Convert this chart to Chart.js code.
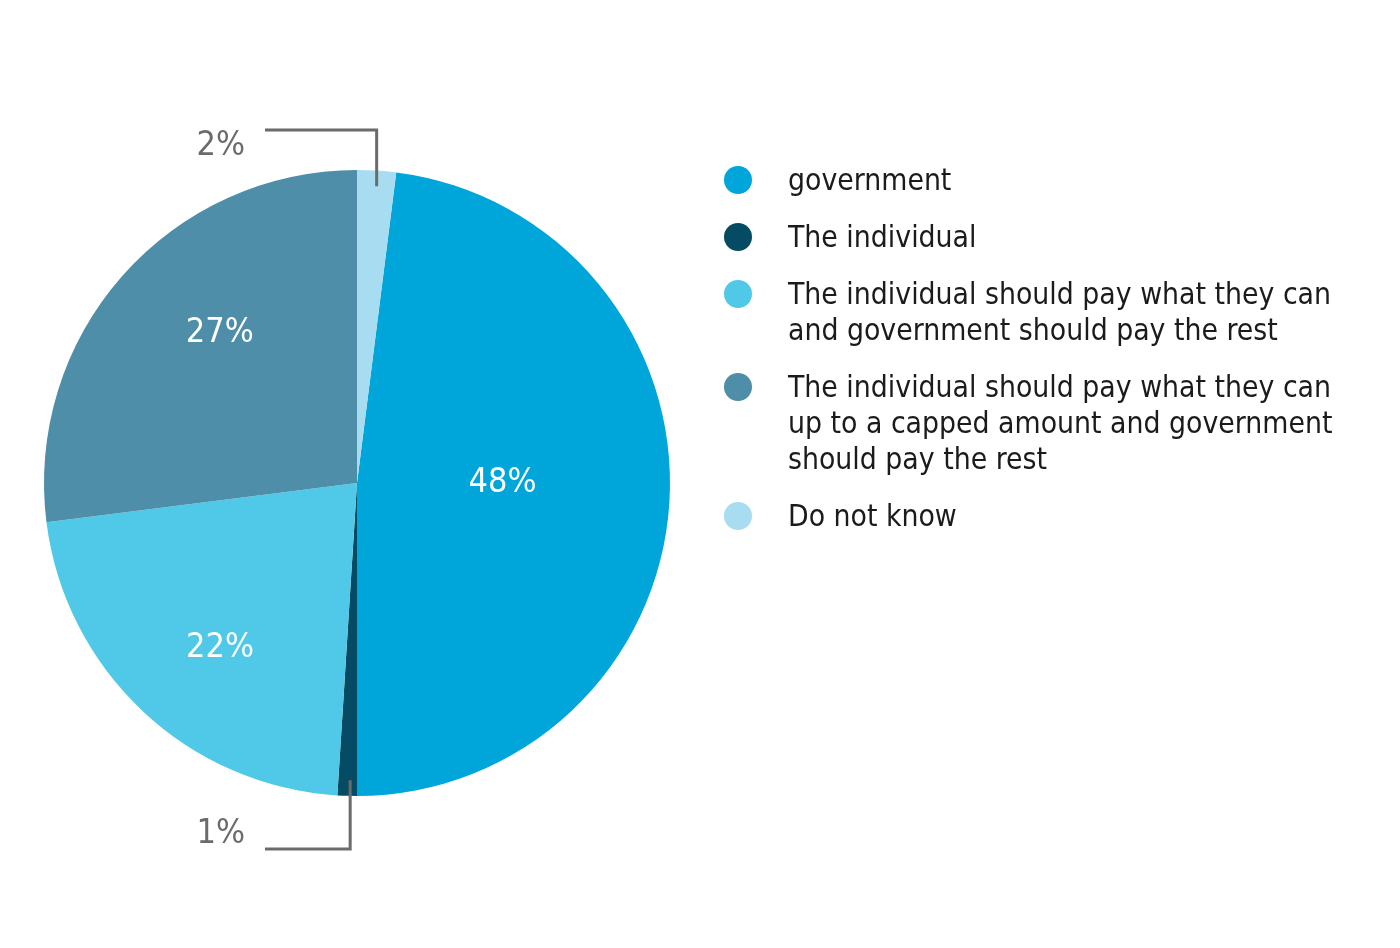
<!DOCTYPE html>
<html>
<head>
  <title>Who should pay</title>
  <script src="https://cdn.jsdelivr.net/npm/chart.js"></script>
  <style>
    body { margin: 0; background: #fff; }
    #wrap { position: relative; width: 1400px; height: 948px; }
    #canvas { position: absolute; left: 0; top: 0; }
    #legend { position: absolute; left: 722px; top: 162px; margin: 0; padding: 0; list-style: none;
      font-family: "DejaVu Sans Condensed", "DejaVu Sans", sans-serif; font-size: 29.8px; color: #1b1b1b; }
    #legend li { position: relative; padding-left: 66px; line-height: 36px; margin-bottom: 21px; white-space: nowrap; }
    #legend span.dot { position: absolute; left: 2px; top: 4px; width: 28px; height: 28px; border-radius: 50%; }
  </style>
</head>
<body>
  <div id="wrap">
    <canvas id="canvas" width="1400" height="948"></canvas>
    <ul id="legend"></ul>
  </div>
  <script>
    // legend order, lines as shown
    var labels = [
      ['government'],
      ['The individual'],
      ['The individual should pay what they can', 'and government should pay the rest'],
      ['The individual should pay what they can', 'up to a capped amount and government', 'should pay the rest'],
      ['Do not know']
    ];
    var values = [48, 1, 22, 27, 2];
    var colors = ['#00a6da', '#064b64', '#50c8e8', '#4e8ea8', '#a8dcf0'];

    // build legend
    var ul = document.getElementById('legend');
    labels.forEach(function (l, i) {
      var li = document.createElement('li');
      var dot = document.createElement('span');
      dot.className = 'dot';
      dot.style.background = colors[i];
      li.appendChild(dot);
      l.forEach(function (line, j) {
        if (j > 0) li.appendChild(document.createElement('br'));
        li.appendChild(document.createTextNode(line));
      });
      ul.appendChild(li);
    });

    // percentage labels: inside for big slices, outside with a leader line for small ones
    var sliceLabels = {
      id: 'sliceLabels',
      afterDatasetsDraw: function (chart, args, opts) {
        var c = chart.ctx;
        var arcs = chart.getDatasetMeta(0).data;
        c.save();
        c.font = '34px "DejaVu Sans Condensed", "DejaVu Sans", sans-serif';
        c.textBaseline = 'middle';
        arcs.forEach(function (arc, i) {
          var v = values[i];
          var mid = (arc.startAngle + arc.endAngle) / 2;
          var r = arc.outerRadius;
          if (v >= 5) {
            var f = opts.radius[i];
            var a = mid + opts.shift[i] * Math.PI / 180;
            c.fillStyle = '#ffffff';
            c.textAlign = 'center';
            c.fillText(v + '%', arc.x + Math.cos(a) * r * f, arc.y + Math.sin(a) * r * f);
          } else {
            var px = arc.x + Math.cos(mid) * r + (Math.sin(mid) > 0 ? 3 : 0);
            var inY = arc.y + Math.sin(mid) * r * 0.95;
            var up = Math.sin(mid) < 0;
            var outY = up ? arc.y - r - 40 : arc.y + r + 53;
            var endX = arc.x - 92;
            c.strokeStyle = '#6b6b6b';
            c.lineWidth = 3;
            c.beginPath();
            c.moveTo(px, inY);
            c.lineTo(px, outY);
            c.lineTo(endX, outY);
            c.stroke();
            c.fillStyle = '#6b6b6b';
            c.textAlign = 'right';
            c.fillText(v + '%', endX - 20, outY + (up ? 16 : -15));
          }
        });
        c.restore();
      }
    };

    var ctx = document.getElementById('canvas').getContext('2d');
    var myPie = new Chart(ctx, {
      type: 'pie',
      data: {
        labels: labels.map(function (l) { return l.join(' '); }),
        datasets: [{
          data: values,
          backgroundColor: colors,
          borderWidth: 0
        }]
      },
      options: {
        responsive: false,
        animation: false,
        rotation: 7.2, // "Do not know" sits just right of 12 o'clock
        layout: { padding: { left: 44, right: 730, top: 170, bottom: 152 } },
        plugins: {
          legend: { display: false },
          tooltip: { enabled: false },
          sliceLabels: { radius: [0.465, 0, 0.685, 0.65, 0], shift: [-3.6, 0, -3.5, 6.2, 0] }
        }
      },
      plugins: [sliceLabels]
    });
  </script>
</body>
</html>
